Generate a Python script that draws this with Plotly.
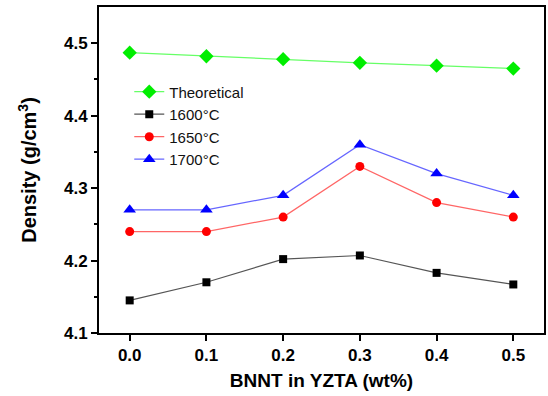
import plotly.graph_objects as go

x = [0.0, 0.1, 0.2, 0.3, 0.4, 0.5]
x_labels = ["0.0", "0.1", "0.2", "0.3", "0.4", "0.5"]
y_ticks = [4.1, 4.2, 4.3, 4.4, 4.5]
y_labels = ["4.1", "4.2", "4.3", "4.4", "4.5"]
theoretical = [4.487, 4.482, 4.478, 4.473, 4.469, 4.465]
t1600 = [4.145, 4.170, 4.202, 4.207, 4.183, 4.167]
t1650 = [4.240, 4.240, 4.260, 4.330, 4.280, 4.260]
t1700 = [4.270, 4.270, 4.290, 4.360, 4.320, 4.290]

fig = go.Figure()
series = [
    ("Theoretical", theoretical, "#66ff66", "#00ee00", "diamond", 11),
    ("1600°C", t1600, "#555555", "#000000", "square", 8),
    ("1650°C", t1650, "#ff6666", "#ff0000", "circle", 9),
    ("1700°C", t1700, "#6666ff", "#0000ff", "triangle-up", 11),
]
for name, y, lc, mc, sym, sz in series:
    fig.add_trace(go.Scatter(
        x=x, y=y, name=name, mode="lines+markers",
        line=dict(color=lc, width=1.2),
        marker=dict(color=mc, symbol=sym, size=sz),
    ))

fig.update_layout(
    width=548, height=396,
    margin=dict(l=99, r=2, t=7, b=63),
    plot_bgcolor="white", paper_bgcolor="white",
    font=dict(family="Liberation Sans, Arial", color="black"),
    legend=dict(x=0.068, y=0.79, xanchor="left", yanchor="top",
                bgcolor="rgba(0,0,0,0)", font=dict(size=15, color="#111111"),
                tracegroupgap=0, itemwidth=30),
    xaxis=dict(
        range=[-0.04, 0.54], tickvals=x, ticktext=["<b>%s</b>" % s for s in x_labels],
        showgrid=False, zeroline=False, showline=True, linecolor="black", linewidth=2,
        mirror=True, ticks="outside", ticklen=6, tickwidth=2, tickcolor="black",
        tickfont=dict(size=17),
        title=dict(text="<b>BNNT in YZTA (wt%)</b>", font=dict(size=19), standoff=9),
    ),
    yaxis=dict(
        range=[4.1, 4.55], tickvals=y_ticks,
        ticktext=["<b>%s</b>" % s for s in y_labels],
        showgrid=False, zeroline=False, showline=True, linecolor="black", linewidth=2,
        mirror=True, ticks="outside", ticklen=6, tickwidth=2, tickcolor="black",
        tickfont=dict(size=17),
        minor=dict(tickvals=[4.15, 4.25, 4.35, 4.45], ticks="outside", ticklen=3,
                   tickwidth=2, tickcolor="black"),
        title=dict(text="<b>Density (g/cm<sup>3</sup>)</b>", font=dict(size=20), standoff=22),
    ),
)

fig.write_html("out.html")
